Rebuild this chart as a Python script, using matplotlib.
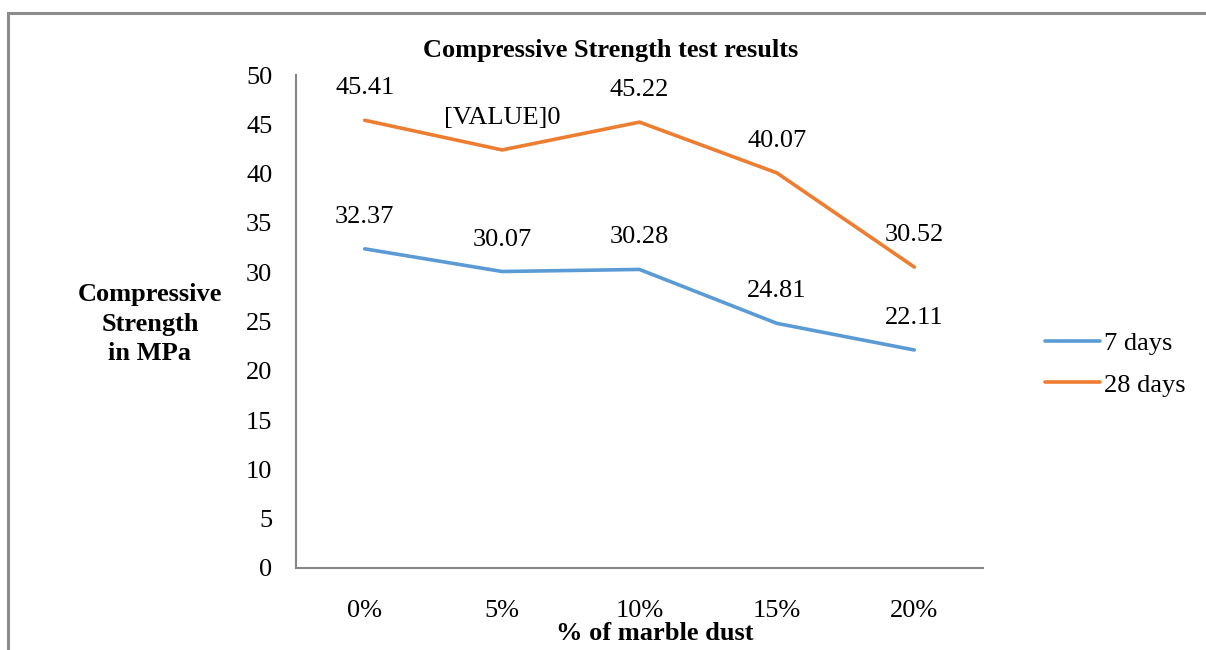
import numpy as np
import matplotlib
matplotlib.use('Agg')
import matplotlib.pyplot as plt
from matplotlib.patches import Rectangle

# data
categories = ['0%', '5%', '10%', '15%', '20%']
days7 = [32.37, 30.07, 30.28, 24.81, 22.11]
days28 = [45.41, 42.4, 45.22, 40.07, 30.52]
labels7 = ['32.37', '30.07', '30.28', '24.81', '22.11']
labels28 = ['45.41', '[VALUE]0', '45.22', '40.07', '30.52']

plt.rcParams['font.family'] = ['Liberation Serif', 'DejaVu Serif']
fs = 19

fig = plt.figure(figsize=(12.06, 6.5), dpi=100)
# outer chart border (right and bottom fall off the picture)
fig.patches.append(Rectangle((8 / 1206, -0.05), 1.2, 0.05 + 637 / 650, transform=fig.transFigure,
                             fill=False, edgecolor='#8c8c8c', linewidth=2.2))

ax = fig.add_axes([296 / 1206, 82 / 650, 687 / 1206, 493 / 650])
x = np.arange(len(categories))
ax.plot(x, days7, color='#5B9BD5', linewidth=2.6, label='7 days', solid_capstyle='round')
ax.plot(x, days28, color='#ED7D31', linewidth=2.6, label='28 days', solid_capstyle='round')

for xi, v, t in zip(x, days7, labels7):
    ax.annotate(t, (xi, v), xytext=(0, 23), textcoords='offset points',
                ha='center', va='center', fontsize=fs)
for xi, v, t in zip(x, days28, labels28):
    ax.annotate(t, (xi, v), xytext=(0, 23), textcoords='offset points',
                ha='center', va='center', fontsize=fs)

ax.set_xlim(-0.5, len(categories) - 0.5)
ax.set_ylim(0, 50)
ax.set_yticks(np.arange(0, 51, 5))
ax.set_xticks(x)
ax.set_xticklabels(categories)
ax.tick_params(length=0, labelsize=fs, colors='black')
ax.tick_params(axis='y', pad=17)
ax.tick_params(axis='x', pad=23)
for s in ['top', 'right']:
    ax.spines[s].set_visible(False)
for s in ['left', 'bottom']:
    ax.spines[s].set_color('#868686')
    ax.spines[s].set_linewidth(1.5)

fig.text(611 / 1206, 1 - 50 / 650, 'Compressive Strength test results', ha='center', va='center',
         fontsize=fs, fontweight='bold')
fig.text(150 / 1206, 1 - 324 / 650, 'Compressive\nStrength\nin MPa', ha='center', va='center',
         fontsize=fs, fontweight='bold', linespacing=1.35)
fig.text(655 / 1206, 1 - 633 / 650, '% of marble dust', ha='center', va='center',
         fontsize=fs, fontweight='bold')

ax.legend(loc='center left', bbox_to_anchor=(1045 / 1206, 1 - 364 / 650), bbox_transform=fig.transFigure,
          frameon=False, fontsize=fs, handlelength=2.1, handletextpad=0.15, labelspacing=0.7,
          borderaxespad=0, borderpad=0)

fig.savefig('out.png', dpi=100, facecolor='white')
